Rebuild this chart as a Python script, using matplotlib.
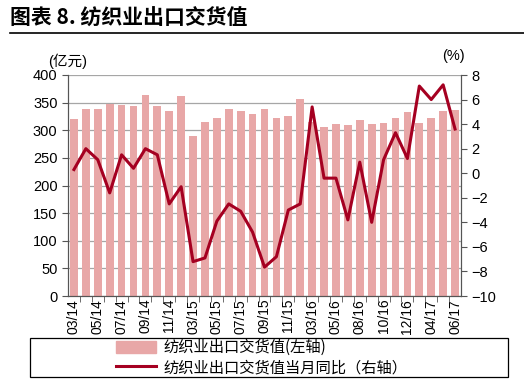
import matplotlib
matplotlib.use("Agg")
import matplotlib.pyplot as plt
from matplotlib.lines import Line2D
from matplotlib.patches import Rectangle

plt.rcParams['font.family'] = ['Liberation Sans', 'Noto Sans CJK SC']

months = ['03/14', '04/14', '05/14', '06/14', '07/14', '08/14', '09/14', '10/14', '11/14', '12/14',
          '03/15', '04/15', '05/15', '06/15', '07/15', '08/15', '09/15', '10/15', '11/15', '12/15',
          '03/16', '04/16', '05/16', '07/16', '08/16', '09/16', '10/16', '11/16', '12/16',
          '03/17', '04/17', '05/17', '06/17']

# 纺织业出口交货值 (亿元)
export_value = [321, 338, 338, 347, 346, 344, 364, 344, 334, 362,
                289, 315, 323, 338, 334, 329, 338, 323, 326, 356,
                315, 306, 312, 309, 318, 312, 314, 323, 333,
                314, 323, 335, 337]

# 当月同比 (%)
yoy = [0.3, 2.0, 1.1, -1.6, 1.5, 0.4, 2.0, 1.5, -2.5, -1.1,
       -7.2, -6.9, -3.9, -2.5, -3.1, -4.8, -7.65, -6.8, -3.0, -2.5,
       5.4, -0.4, -0.4, -3.8, 0.9, -4.0, 1.1, 3.3, 1.2,
       7.1, 6.0, 7.2, 3.6]

bar_color = '#E8A7A7'
line_color = '#A50021'

fig = plt.figure(figsize=(5.24, 3.84), dpi=100)
ax = fig.add_axes([68/524, 1 - 296/384, (461-68)/524, (296-75)/384])
x = list(range(len(months)))

ax.bar(x, export_value, width=0.65, color=bar_color, zorder=2)
ax.set_xlim(-0.5, len(months) - 0.5)
ax.set_ylim(0, 400)
ax.set_yticks(range(0, 401, 50))
ax.grid(axis='y', color='#A6A6A6', linewidth=0.9, zorder=0)
ax.set_xticks(x[::2])
ax.set_xticklabels(months[::2], rotation=90, fontsize=10)
ax.set_xticks([i + 0.5 for i in x[:-1]], minor=True)
ax.tick_params(axis='x', which='major', length=0, pad=2)
ax.tick_params(axis='x', which='minor', length=4, direction='out', color='#555555')
ax.tick_params(axis='y', labelsize=10.5, length=4, color='#555555')
ax.spines['top'].set_visible(False)
for s in ['left', 'bottom', 'right']:
    ax.spines[s].set_color('#555555')

ax2 = ax.twinx()
ax2.plot(x, yoy, color=line_color, linewidth=2.2, zorder=3)
ax2.set_ylim(-10, 8)
ax2.set_yticks(range(-10, 9, 2))
ax2.tick_params(axis='y', labelsize=10.5, length=4, color='#555555')
ax2.spines['top'].set_visible(False)
for s in ['left', 'bottom', 'right']:
    ax2.spines[s].set_color('#555555')

# title and unit labels
fig.text(10/524, 1 - 18/384, '图表 8. 纺织业出口交货值', fontsize=15, fontweight='bold',
         family=['Noto Sans CJK SC'], va='center', ha='left')
fig.add_artist(Line2D([10/524, 1.0], [1 - 33/384, 1 - 33/384], color='black', linewidth=1.2))
fig.text(68/524, 1 - 61/384, '(亿元)', fontsize=10.5, ha='center', va='center',
         family=['Liberation Sans', 'Noto Sans CJK SC'])
fig.text(453/524, 1 - 56/384, '(%)', fontsize=10.5, ha='center', va='center')

# legend box
fig.add_artist(Rectangle((30/524, 1 - 377/384), (508-30)/524, (377-338)/384,
                         transform=fig.transFigure, fill=False, edgecolor='black', linewidth=0.9))
handles = [Rectangle((0, 0), 1, 1, color=bar_color),
           Line2D([], [], color=line_color, linewidth=2.2)]
fig.legend(handles, ['纺织业出口交货值(左轴)', '纺织业出口交货值当月同比（右轴）'],
           loc='center', bbox_to_anchor=(0.5, 1 - 357.5/384), frameon=False,
           handlelength=2.6, handleheight=0.8, labelspacing=0.2, handletextpad=0.5,
           prop={'family': ['Noto Sans CJK SC'], 'size': 11})

fig.savefig('out.png', dpi=100)
